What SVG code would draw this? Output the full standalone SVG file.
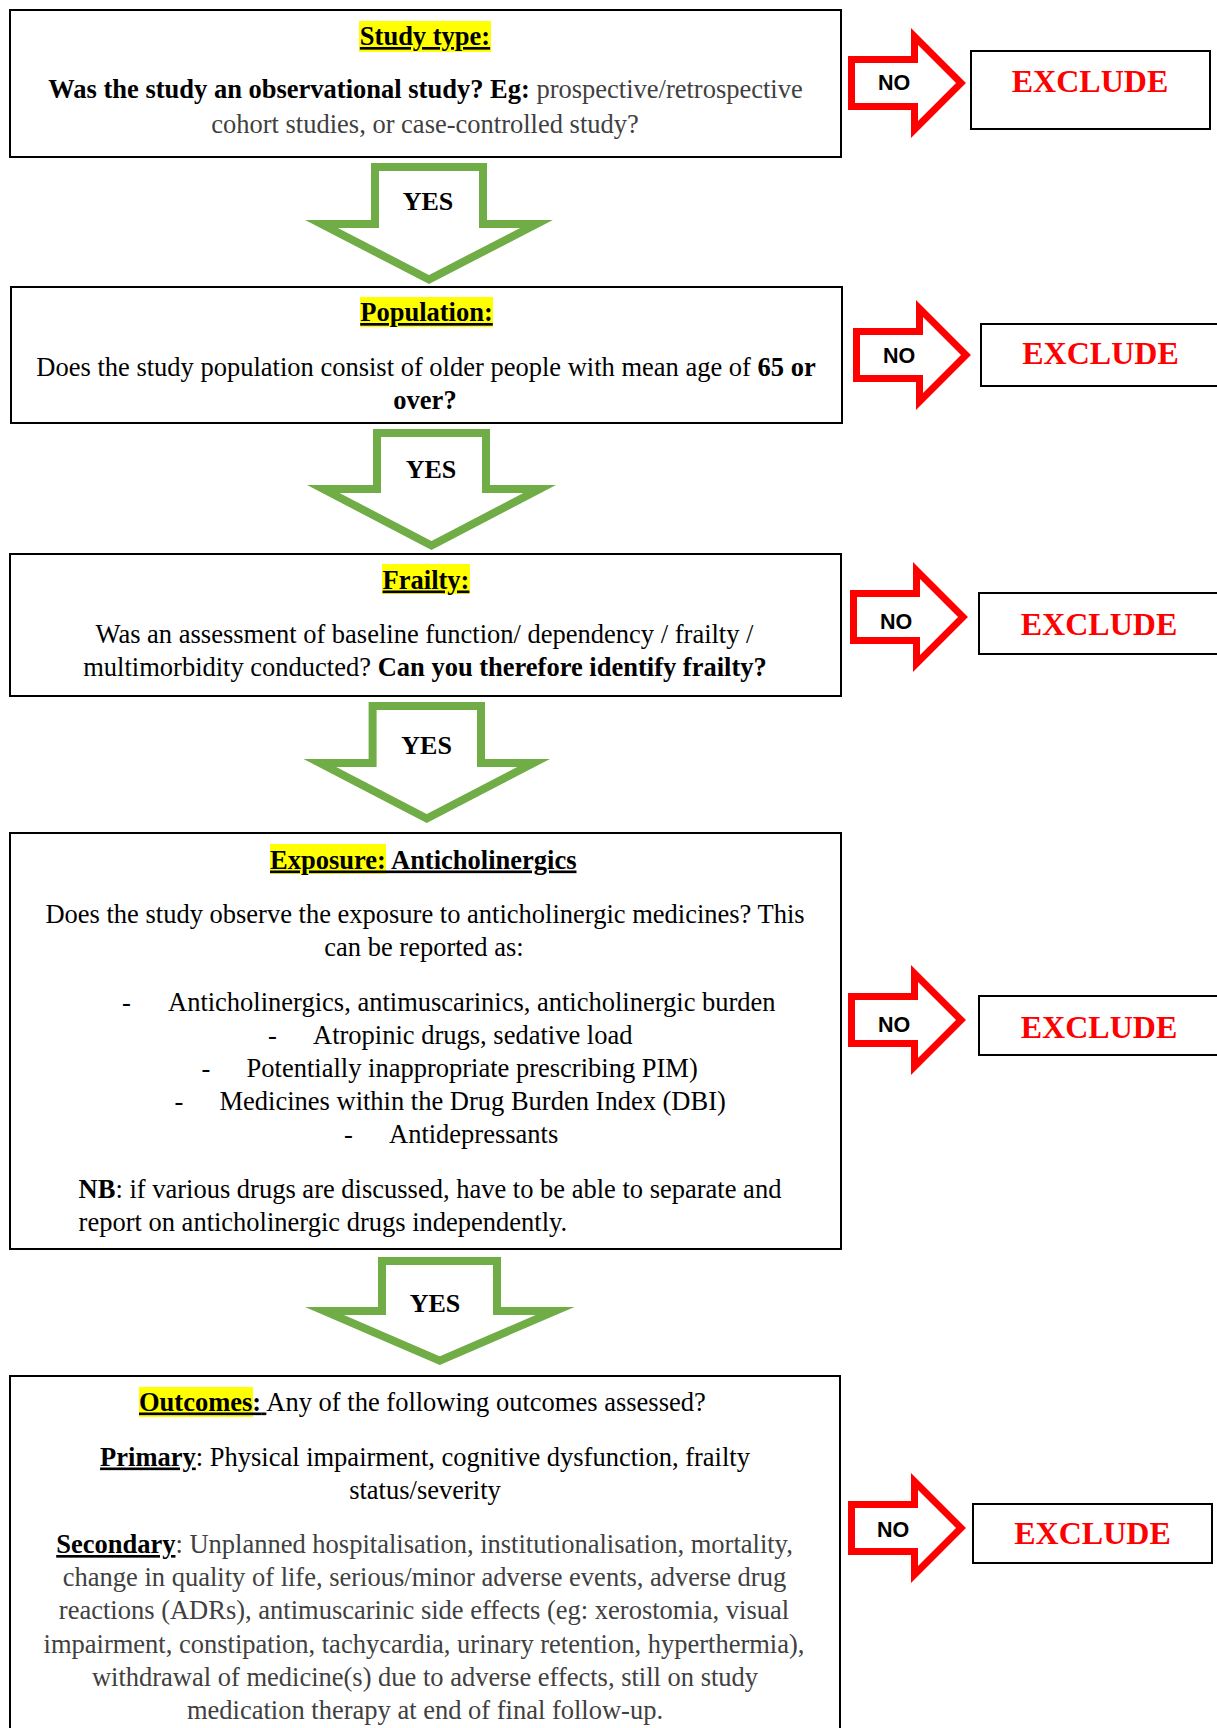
<svg xmlns="http://www.w3.org/2000/svg" xmlns:xlink="http://www.w3.org/1999/xlink" width="1217" height="1728" viewBox="0 0 1217 1728">
<style>
.t{font-family:"Liberation Serif","Times New Roman",serif;font-size:26.5px;fill:#000}
.b{font-weight:bold}
.g{fill:#404040}
.u{text-decoration:underline}
.c{text-anchor:middle}
.box{fill:#fff;stroke:#000;stroke-width:2}
.hl{fill:#ffff00}
.yes{fill:#fff;stroke:#70ad47;stroke-width:8;stroke-miterlimit:10;stroke-linejoin:miter}
.yl{font-family:"Liberation Serif","Times New Roman",serif;font-weight:bold;font-size:26px;text-anchor:middle;fill:#000}
.no{font-family:"Liberation Sans",Arial,sans-serif;font-weight:bold;font-size:21.5px;text-anchor:middle;fill:#000}
.ex{font-family:"Liberation Serif","Times New Roman",serif;font-weight:bold;font-size:32px;text-anchor:middle;fill:#ff0000}
</style>
<defs>
<path id="noArrow" d="M3.5,31.5 H66.5 V8.5 L113,55 L66.5,101.5 V78.5 H3.5 Z" fill="#fff" stroke="#ff0000" stroke-width="7" stroke-miterlimit="10"/>
</defs>
<rect width="1217" height="1728" fill="#fff"/>

<g id="connectors">
  <g id="yes1">
    <path class="yes" d="M375,167 H483 V224 H536.5 L429,279.5 L321.5,224 H375 Z"/>
    <text class="yl" x="428" y="210">YES</text>
  </g>
  <g id="yes2">
    <path class="yes" d="M377,433 H486 V489 H539.7 L431.5,545.5 L323.3,489 H377 Z"/>
    <text class="yl" x="431" y="477.5">YES</text>
  </g>
  <g id="yes3">
    <path class="yes" d="M372.6,706 H481 V763 H533.6 L426.75,818.5 L319.9,763 H372.6 Z"/>
    <text class="yl" x="426.6" y="753.5">YES</text>
  </g>
  <g id="yes4">
    <path class="yes" d="M382,1261 H497 V1311 H555.1 L439.75,1360.6 L324.4,1311 H382 Z"/>
    <text class="yl" x="435" y="1311.5">YES</text>
  </g>
  <g id="no1">
    <use xlink:href="#noArrow" href="#noArrow" x="848" y="28"/>
    <text class="no" x="894" y="89.5">NO</text>
  </g>
  <g id="no2">
    <use xlink:href="#noArrow" href="#noArrow" x="853" y="300"/>
    <text class="no" x="899" y="363">NO</text>
  </g>
  <g id="no3">
    <use xlink:href="#noArrow" href="#noArrow" x="850" y="562"/>
    <text class="no" x="896" y="628.5">NO</text>
  </g>
  <g id="no4">
    <use xlink:href="#noArrow" href="#noArrow" x="848" y="965"/>
    <text class="no" x="894" y="1031.5">NO</text>
  </g>
  <g id="no5">
    <use xlink:href="#noArrow" href="#noArrow" x="848" y="1473"/>
    <text class="no" x="893" y="1537">NO</text>
  </g>
</g>

<g id="study-type">
  <rect class="box" x="10" y="10" width="831" height="147"/>
  <rect class="hl" x="359" y="21" width="132" height="31"/>
  <text class="t b u c" x="425" y="45">Study type:</text>
  <text class="t c" x="425.5" y="98"><tspan class="b">Was the study an observational study? Eg: </tspan><tspan class="g">prospective/retrospective</tspan></text>
  <text class="t g c" x="425" y="132.5">cohort studies, or case-controlled study?</text>
</g>

<g id="population">
  <rect class="box" x="11" y="287" width="831" height="136"/>
  <rect class="hl" x="360" y="297" width="133" height="30"/>
  <text class="t b u c" x="426.5" y="321">Population:</text>
  <text class="t c" x="426" y="375.5">Does the study population consist of older people with mean age of <tspan class="b">65 or</tspan></text>
  <text class="t b c" x="425" y="408.5">over?</text>
</g>

<g id="frailty">
  <rect class="box" x="10" y="554" width="831" height="142"/>
  <rect class="hl" x="382" y="564" width="88" height="30"/>
  <text class="t b u c" x="426" y="588.5">Frailty:</text>
  <text class="t c" x="424.5" y="642.5">Was an assessment of baseline function/ dependency / frailty /</text>
  <text class="t c" x="425" y="676">multimorbidity conducted? <tspan class="b">Can you therefore identify frailty?</tspan></text>
</g>

<g id="exposure">
  <rect class="box" x="10" y="833" width="831" height="416"/>
  <rect class="hl" x="270" y="844" width="116" height="30"/>
  <text class="t b u" x="270" y="868.5">Exposure: Anticholinergics</text>
  <text class="t c" x="425" y="922.5">Does the study observe the exposure to anticholinergic medicines? This</text>
  <text class="t c" x="424" y="956">can be reported as:</text>
  <text class="t" x="122" y="1010.5">-</text>
  <text class="t" x="168" y="1010.5">Anticholinergics, antimuscarinics, anticholinergic burden</text>
  <text class="t" x="268" y="1043.5">-</text>
  <text class="t" x="313" y="1043.5">Atropinic drugs, sedative load</text>
  <text class="t" x="201.6" y="1076.5">-</text>
  <text class="t" x="246.6" y="1076.5">Potentially inappropriate prescribing PIM)</text>
  <text class="t" x="174.5" y="1109.5">-</text>
  <text class="t" x="219.5" y="1109.5">Medicines within the Drug Burden Index (DBI)</text>
  <text class="t" x="344" y="1142.5">-</text>
  <text class="t" x="389" y="1142.5">Antidepressants</text>
  <text class="t" x="78.6" y="1197.5"><tspan class="b">NB</tspan>: if various drugs are discussed, have to be able to separate and</text>
  <text class="t" x="78.6" y="1230.5">report on anticholinergic drugs independently.</text>
</g>

<g id="outcomes">
  <rect class="box" x="10" y="1376" width="830" height="370"/>
  <rect class="hl" x="139" y="1387" width="114" height="30"/>
  <text class="t" x="139" y="1410.5"><tspan class="b u">Outcomes:</tspan><tspan class="u"> </tspan>Any of the following outcomes assessed?</text>
  <text class="t c" x="425" y="1465.5"><tspan class="b u">Primary</tspan>: Physical impairment, cognitive dysfunction, frailty</text>
  <text class="t c" x="425" y="1498.5">status/severity</text>
  <text class="t c" x="424.5" y="1553"><tspan class="b u">Secondary</tspan><tspan class="g">: Unplanned hospitalisation, institutionalisation, mortality,</tspan></text>
  <text class="t g c" x="424.5" y="1586">change in quality of life, serious/minor adverse events, adverse drug</text>
  <text class="t g c" x="424" y="1619">reactions (ADRs), antimuscarinic side effects (eg: xerostomia, visual</text>
  <text class="t g c" x="424" y="1652.5">impairment, constipation, tachycardia, urinary retention, hyperthermia),</text>
  <text class="t g c" x="425" y="1685.5">withdrawal of medicine(s) due to adverse effects, still on study</text>
  <text class="t g c" x="425" y="1718.5">medication therapy at end of final follow-up.</text>
</g>

<g id="exclude1">
  <rect class="box" x="971" y="51" width="239" height="78"/>
  <text class="ex" x="1090" y="91.5">EXCLUDE</text>
</g>
<g id="exclude2">
  <rect class="box" x="981" y="324" width="250" height="62"/>
  <text class="ex" x="1100.5" y="364">EXCLUDE</text>
</g>
<g id="exclude3">
  <rect class="box" x="979" y="593" width="250" height="61"/>
  <text class="ex" x="1099" y="634.5">EXCLUDE</text>
</g>
<g id="exclude4">
  <rect class="box" x="979" y="996" width="250" height="59"/>
  <text class="ex" x="1099" y="1038">EXCLUDE</text>
</g>
<g id="exclude5">
  <rect class="box" x="973" y="1504" width="239" height="59"/>
  <text class="ex" x="1092.5" y="1544">EXCLUDE</text>
</g>
</svg>
